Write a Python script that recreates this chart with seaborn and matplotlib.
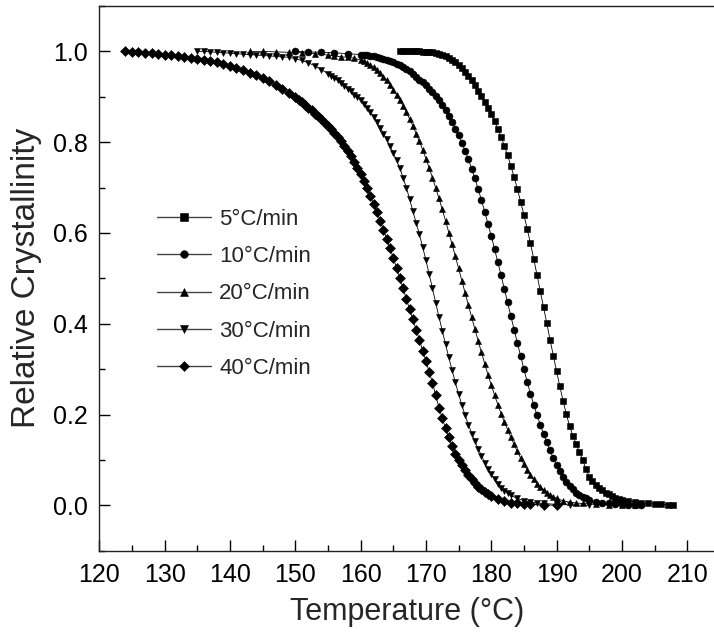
import numpy as np
import pandas as pd
import matplotlib
matplotlib.use("Agg")
import matplotlib.pyplot as plt
import seaborn as sns
from matplotlib.ticker import MultipleLocator, FormatStrFormatter

# ---- data ----
rates = ["5", "10", "20", "30", "40"]

T_5 = [166, 166.5, 167, 167.5, 168, 168.5, 169, 169.5, 170, 170.5, 171, 171.5, 172, 172.5, 173, 173.5,
       174, 174.5, 175, 175.5, 176, 176.5, 177, 177.5, 178, 178.5, 179, 179.5, 180, 180.5, 181, 181.5,
       182, 182.5, 183, 183.5, 184, 184.5, 185, 185.5, 186, 186.5, 187, 187.5, 188, 188.5, 189, 189.5,
       190, 190.5, 191, 191.5, 192, 192.5, 193, 193.5, 194, 194.5, 195, 195.5, 196, 196.5, 197, 197.5,
       198, 198.5, 199, 199.5, 200, 201, 202, 203, 204, 205, 206, 207, 207.8]
X_5 = [1.000, 1.000, 1.000, 1.000, 1.000, 1.000, 1.000, 0.999, 0.999, 0.999, 0.998, 0.997, 0.995, 0.993,
       0.990, 0.986, 0.982, 0.976, 0.970, 0.963, 0.955, 0.946, 0.936, 0.925, 0.913, 0.901, 0.888, 0.875,
       0.862, 0.847, 0.830, 0.812, 0.792, 0.771, 0.748, 0.723, 0.697, 0.669, 0.640, 0.609, 0.577, 0.543,
       0.508, 0.472, 0.437, 0.401, 0.365, 0.330, 0.295, 0.262, 0.230, 0.201, 0.174, 0.153, 0.135, 0.117,
       0.100, 0.080, 0.063, 0.053, 0.045, 0.039, 0.033, 0.028, 0.024, 0.020, 0.017, 0.014, 0.012, 0.009,
       0.007, 0.005, 0.004, 0.003, 0.002, 0.001, 0.000]

T_10 = [150, 152, 154, 156, 158, 160, 160.5, 161, 161.5, 162, 162.5, 163, 163.5, 164, 164.5, 165, 165.5,
        166, 166.5, 167, 167.5, 168, 168.5, 169, 169.5, 170, 170.5, 171, 171.5, 172, 172.5, 173, 173.5,
        174, 174.5, 175, 175.5, 176, 176.5, 177, 177.5, 178, 178.5, 179, 179.5, 180, 180.5, 181, 181.5,
        182, 182.5, 183, 183.5, 184, 184.5, 185, 185.5, 186, 186.5, 187, 187.5, 188, 188.5, 189, 189.5,
        190, 190.5, 191, 191.5, 192, 192.5, 193, 193.5, 194, 194.5, 195, 196, 197, 198, 199, 200, 201,
        202, 203]
X_10 = [1.000, 0.999, 0.998, 0.997, 0.995, 0.993, 0.992, 0.991, 0.990, 0.989, 0.987, 0.985, 0.984, 0.982,
        0.979, 0.976, 0.973, 0.970, 0.966, 0.961, 0.956, 0.950, 0.944, 0.938, 0.932, 0.925, 0.918, 0.911,
        0.902, 0.893, 0.882, 0.870, 0.858, 0.845, 0.830, 0.815, 0.798, 0.781, 0.762, 0.742, 0.720, 0.697,
        0.672, 0.647, 0.620, 0.593, 0.565, 0.536, 0.507, 0.477, 0.447, 0.417, 0.387, 0.358, 0.329, 0.300,
        0.272, 0.246, 0.222, 0.199, 0.178, 0.158, 0.139, 0.121, 0.104, 0.089, 0.075, 0.063, 0.052, 0.043,
        0.035, 0.028, 0.023, 0.018, 0.015, 0.012, 0.008, 0.005, 0.004, 0.003, 0.002, 0.001, 0.001, 0.000]

T_20 = [143, 145, 147, 149, 151, 153, 155, 156, 157, 158, 159, 160, 160.5, 161, 161.5, 162, 162.5, 163,
        163.5, 164, 164.5, 165, 165.5, 166, 166.5, 167, 167.5, 168, 168.5, 169, 169.5, 170, 170.5, 171,
        171.5, 172, 172.5, 173, 173.5, 174, 174.5, 175, 175.5, 176, 176.5, 177, 177.5, 178, 178.5, 179,
        179.5, 180, 180.5, 181, 181.5, 182, 182.5, 183, 183.5, 184, 184.5, 185, 185.5, 186, 186.5, 187,
        187.5, 188, 188.5, 189, 189.5, 190, 191, 192, 193, 194, 196, 198, 200, 202]
X_20 = [1.000, 1.000, 0.999, 0.998, 0.997, 0.995, 0.992, 0.990, 0.988, 0.987, 0.985, 0.981, 0.978, 0.974,
        0.970, 0.965, 0.959, 0.952, 0.944, 0.936, 0.926, 0.916, 0.905, 0.893, 0.880, 0.866, 0.851, 0.836,
        0.819, 0.802, 0.783, 0.764, 0.743, 0.722, 0.699, 0.676, 0.652, 0.627, 0.601, 0.575, 0.549, 0.522,
        0.495, 0.468, 0.441, 0.414, 0.388, 0.362, 0.337, 0.312, 0.288, 0.265, 0.243, 0.222, 0.202, 0.184,
        0.167, 0.150, 0.134, 0.119, 0.104, 0.090, 0.078, 0.066, 0.057, 0.048, 0.041, 0.034, 0.028, 0.023,
        0.019, 0.015, 0.010, 0.007, 0.005, 0.004, 0.002, 0.001, 0.000, 0.000]

T_30 = [135, 136, 137, 138, 139, 140, 141, 142, 143, 144, 145, 146, 147, 148, 149, 150, 151, 152, 153, 154,
        155, 155.5, 156, 156.5, 157, 157.5, 158, 158.5, 159, 159.5, 160, 160.5, 161, 161.5, 162, 162.5,
        163, 163.5, 164, 164.5, 165, 165.5, 166, 166.5, 167, 167.5, 168, 168.5, 169, 169.5, 170, 170.5,
        171, 171.5, 172, 172.5, 173, 173.5, 174, 174.5, 175, 175.5, 176, 176.5, 177, 177.5, 178, 178.5,
        179, 179.5, 180, 180.5, 181, 181.5, 182, 182.5, 183, 184, 185, 186, 187, 188, 190, 192, 195]
X_30 = [1.000, 1.000, 0.999, 0.998, 0.997, 0.996, 0.995, 0.994, 0.993, 0.992, 0.991, 0.990, 0.989, 0.988,
        0.987, 0.984, 0.980, 0.975, 0.968, 0.960, 0.951, 0.946, 0.941, 0.936, 0.930, 0.924, 0.918, 0.912,
        0.905, 0.899, 0.892, 0.884, 0.876, 0.866, 0.855, 0.844, 0.832, 0.819, 0.806, 0.791, 0.776, 0.760,
        0.743, 0.722, 0.700, 0.675, 0.648, 0.623, 0.597, 0.569, 0.540, 0.509, 0.478, 0.446, 0.415, 0.385,
        0.355, 0.326, 0.298, 0.271, 0.245, 0.221, 0.198, 0.178, 0.158, 0.141, 0.125, 0.109, 0.094, 0.080,
        0.068, 0.057, 0.047, 0.039, 0.032, 0.027, 0.022, 0.015, 0.010, 0.007, 0.005, 0.004, 0.002, 0.001,
        0.000]

T_40 = [124, 125, 126, 127, 128, 129, 130, 131, 132, 133, 134, 135, 136, 137, 138, 139, 140, 141, 142, 143,
        144, 145, 146, 147, 148, 149, 150, 150.5, 151, 151.5, 152, 152.5, 153, 153.5, 154, 154.5, 155,
        155.5, 156, 156.5, 157, 157.5, 158, 158.5, 159, 159.5, 160, 160.5, 161, 161.5, 162, 162.5, 163,
        163.5, 164, 164.5, 165, 165.5, 166, 166.5, 167, 167.5, 168, 168.5, 169, 169.5, 170, 170.5, 171,
        171.5, 172, 172.5, 173, 173.5, 174, 174.5, 175, 175.5, 176, 176.5, 177, 177.5, 178, 178.5, 179,
        179.5, 180, 181, 182, 183, 184, 185, 186, 188, 190]
X_40 = [1.000, 0.999, 0.998, 0.997, 0.996, 0.995, 0.993, 0.992, 0.990, 0.988, 0.986, 0.984, 0.982, 0.979,
        0.976, 0.972, 0.968, 0.963, 0.958, 0.953, 0.947, 0.941, 0.934, 0.926, 0.918, 0.909, 0.899, 0.894,
        0.888, 0.882, 0.876, 0.870, 0.863, 0.857, 0.850, 0.843, 0.835, 0.828, 0.820, 0.811, 0.802, 0.792,
        0.781, 0.769, 0.757, 0.743, 0.729, 0.714, 0.698, 0.681, 0.664, 0.646, 0.627, 0.607, 0.587, 0.566,
        0.545, 0.523, 0.500, 0.478, 0.455, 0.432, 0.410, 0.387, 0.365, 0.341, 0.318, 0.294, 0.270, 0.242,
        0.215, 0.192, 0.170, 0.150, 0.130, 0.114, 0.100, 0.088, 0.077, 0.066, 0.057, 0.049, 0.041, 0.035,
        0.029, 0.024, 0.020, 0.013, 0.009, 0.006, 0.004, 0.003, 0.002, 0.001, 0.000]

series = {"5": (T_5, X_5), "10": (T_10, X_10), "20": (T_20, X_20), "30": (T_30, X_30), "40": (T_40, X_40)}
labels = {r: r + "\u00b0C/min" for r in rates}

rows = []
for r in rates:
    T, X = series[r]
    for t, x in zip(T, X):
        rows.append({"T": t, "X": x, "rate": labels[r]})
df = pd.DataFrame(rows)

# ---- style ----
sns.set_style("white")
plt.rcParams["font.family"] = ["Liberation Sans", "DejaVu Sans"]
plt.rcParams["axes.linewidth"] = 1.0

fig = plt.figure(figsize=(7.14, 6.42), dpi=100)
W, H = 714, 642
left, right, top, bottom = 99.3, 714.0, 6.0, 550.7
ax = fig.add_axes([left / W, (H - bottom) / H, (right - left) / W, (bottom - top) / H])

marker_map = {labels["5"]: "s", labels["10"]: "o", labels["20"]: "^", labels["30"]: "v", labels["40"]: "D"}
sns.lineplot(data=df, x="T", y="X", style="rate", style_order=[labels[r] for r in rates],
             markers=marker_map, dashes=False, color="black", linewidth=0.6,
             markersize=5, markeredgecolor="black", markeredgewidth=0.4,
             estimator=None, sort=False, ax=ax, legend=True)

ax.set_xlim(120, 214.1)
ax.set_ylim(-0.1, 1.1)
ax.xaxis.set_major_locator(MultipleLocator(10))
ax.xaxis.set_minor_locator(MultipleLocator(5))
ax.yaxis.set_major_locator(MultipleLocator(0.2))
ax.yaxis.set_minor_locator(MultipleLocator(0.1))
ax.yaxis.set_major_formatter(FormatStrFormatter("%.1f"))
ax.tick_params(which="both", direction="in", bottom=True, left=True, top=False, right=False,
               colors="black", width=1.0)
ax.tick_params(which="major", length=8, labelsize=18)
ax.tick_params(which="minor", length=4.5)
ax.tick_params(axis="x", which="major", pad=9)
ax.tick_params(axis="y", which="major", pad=8)
ax.spines["right"].set_visible(False)
for s in ["left", "top", "bottom"]:
    ax.spines[s].set_color("#222222")

ax.set_xlabel("Temperature (\u00b0C)", fontsize=22, labelpad=7)
ax.set_ylabel("Relative Crystallinity", fontsize=24, labelpad=8)

leg = ax.get_legend()
handles = leg.legend_handles
texts = [t.get_text() for t in leg.texts]
leg.remove()
for h in handles:
    h.set_color("#444444")
    h.set_linewidth(1.0)
    h.set_markerfacecolor("black")
    h.set_markeredgecolor("black")
    h.set_markersize(5.5)
ax.legend(handles, texts, loc="upper left", bbox_to_anchor=(157 / W, (H - 209) / H),
          bbox_transform=fig.transFigure, frameon=False, fontsize=16, handlelength=2.45,
          handletextpad=0.35, labelspacing=0.73, borderpad=0, borderaxespad=0, numpoints=1)

fig.savefig("out.png", dpi=100)
